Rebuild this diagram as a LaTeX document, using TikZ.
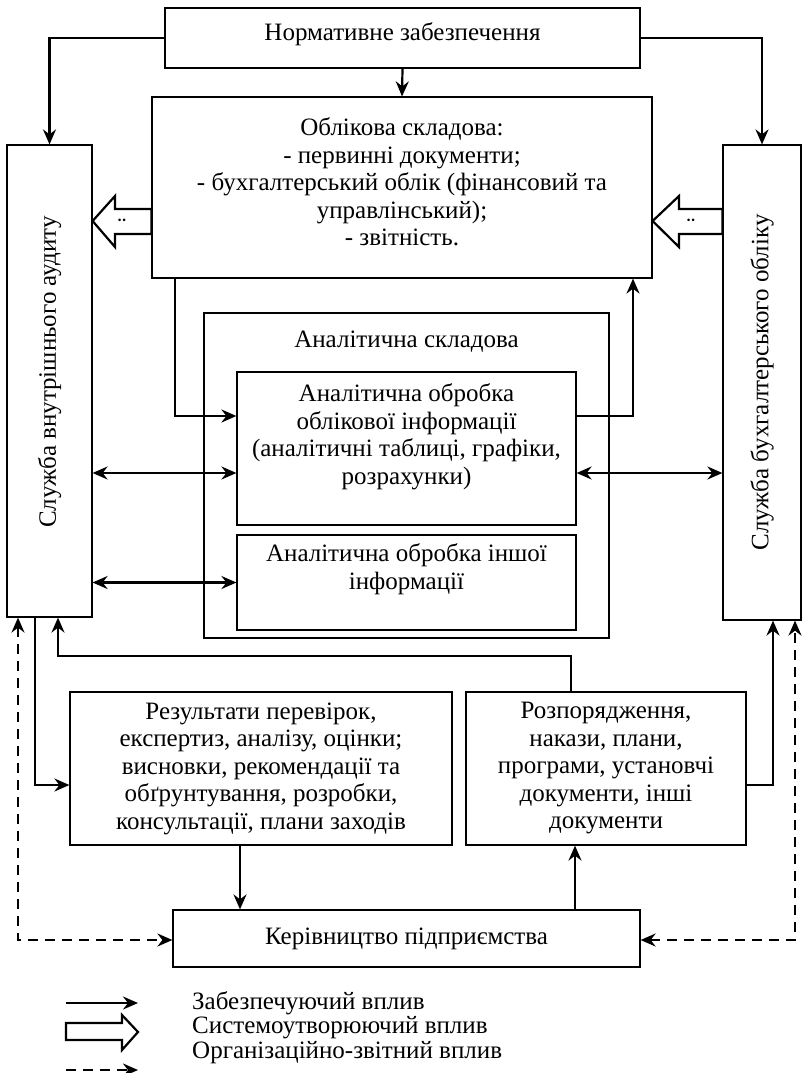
\documentclass[tikz,border=0pt]{standalone}
\usepackage{fontspec}
\setmainfont{Liberation Serif}
\usetikzlibrary{arrows.meta,positioning,calc}

\begin{document}
\begin{tikzpicture}[x=1pt,y=-1pt,
  box/.style={draw,line width=1.2pt},
  txt/.style={align=center,inner sep=2pt,font=\fontsize{25}{27.5}\selectfont},
  link/.style={line width=2.2pt,-{Stealth[length=15pt,width=13pt,inset=5pt]}},
  both/.style={line width=2.2pt,{Stealth[length=15pt,width=13pt,inset=5pt]}-{Stealth[length=15pt,width=13pt,inset=5pt]}},
  dlink/.style={line width=2.2pt,dash pattern=on 10pt off 7pt,{Stealth[length=15pt,width=13pt,inset=5pt]}-{Stealth[length=15pt,width=13pt,inset=5pt]}},
  hollow/.style={line width=2.2pt,line join=miter,fill=white}]
  \useasboundingbox (0,0) rectangle (802,1073);
  % boxes
  \node[box,minimum width=475pt,minimum height=60pt] (norm) at (402.5,38) {};
  \node[txt] (normt) at (402.5,34) {Нормативне забезпечення};
  \node[box,minimum width=500pt,minimum height=181pt] (oblik) at (402,187.5) {};
  \node[txt] (oblikt) at (402,182)
    {Облікова складова:\\- первинні документи;\\- бухгалтерський облік (фінансовий та\\управлінський);\\- звітність.};
  \node[box,minimum width=85pt,minimum height=472pt] (audit) at (49.5,381) {};
  \node[txt,rotate=90] (auditt) at (49.5,372) {Служба внутрішнього аудиту};
  \node[box,minimum width=78pt,minimum height=475pt] (acct) at (762,382.5) {};
  \node[txt,rotate=90] (acctt) at (acct.center) {Служба бухгалтерського обліку};
  \node[box,minimum width=405pt,minimum height=325pt] (anal) at (406.5,475.5) {};
  \node[txt] (analt) at (406.5,342) {Аналітична складова};
  \node[box,minimum width=339pt,minimum height=153pt] (inner1) at (406.5,448.5) {};
  \node[txt,below=10pt of inner1.north] (inner1t)
    {Аналітична обробка\\облікової інформації\\(аналітичні таблиці, графіки,\\розрахунки)};
  \node[box,minimum width=339pt,minimum height=95pt] (inner2) at (406.5,582.5) {};
  \node[txt,below=7pt of inner2.north] (inner2t) {Аналітична обробка іншої\\інформації};
  \node[box,txt,minimum width=382pt,minimum height=153pt] (res) at (261,768.5)
    {Результати перевірок,\\експертиз, аналізу, оцінки;\\висновки, рекомендації та\\обґрунтування, розробки,\\консультації, плани заходів};
  \node[box,txt,minimum width=280pt,minimum height=153pt] (rozp) at (606,768.5)
    {Розпорядження,\\накази, плани,\\програми, установчі\\документи, інші\\документи};
  \node[box,txt,minimum width=467pt,minimum height=57pt] (ker) at (406.5,938.5) {Керівництво підприємства};

  % top links
  \draw[link] (norm.south) -- (oblik.north);
  \draw[link] (norm.west) -| (audit.north);
  \draw[link] (norm.east) -| (acct.north);

  % wide arrows
  \draw[hollow] (audit.east |- 0,221) -- (115,196) -- (115,209) -- (oblik.west |- 0,209)
    -- (oblik.west |- 0,234) -- (115,234) -- (115,247) -- cycle;
  \draw[hollow] (oblik.east |- 0,221) -- (679,196) -- (679,209) -- (acct.west |- 0,209)
    -- (acct.west |- 0,234) -- (679,234) -- (679,247) -- cycle;
  \node[font=\fontsize{26}{26}\selectfont,anchor=north,inner sep=0pt] (m1) at (122,219) {¨};
  \node[font=\fontsize{26}{26}\selectfont,anchor=north,inner sep=0pt] (m2) at (691,219) {¨};

  % analytical part
  \coordinate (c1) at (175,416);
  \coordinate (c2) at (633,416);
  \coordinate (c3) at (0,473);
  \draw[link] (oblik.south -| c1) |- (inner1.west |- c1);
  \draw[link] (inner1.east |- c2) -| (oblik.south -| c2);
  \draw[both] (audit.east |- c3) -- (inner1.west |- c3);
  \draw[both] (inner1.east |- c3) -- (acct.west |- c3);
  \draw[both] (audit.east |- inner2.west) -- (inner2.west);

  % bottom part
  \coordinate (c4) at (35,785);
  \coordinate (c5) at (58,656);
  \coordinate (c6) at (571,656);
  \coordinate (c7) at (240,0);
  \coordinate (c8) at (575,0);
  \coordinate (c9) at (773,785);
  \coordinate (c10) at (18,940);
  \coordinate (c11) at (795,940);
  \draw[link] (audit.south -| c4) |- (res.west |- c4);
  \draw[link] (rozp.north -| c6) |- (c5) -- (audit.south -| c5);
  \draw[link] (res.south -| c7) -- (ker.north -| c7);
  \draw[link] (ker.north -| c8) -- (rozp.south -| c8);
  \draw[link] (rozp.east |- c9) -| (acct.south -| c9);
  \draw[dlink] (audit.south -| c10) |- (ker.west |- c10);
  \draw[dlink] (ker.east |- c11) -| (acct.south -| c11);

  % legend
  \coordinate (k1) at (66,1003);
  \coordinate (k2) at (138,1003);
  \coordinate (k3) at (66,1070);
  \coordinate (k4) at (138,1070);
  \draw[link] (k1) -- (k2);
  \draw[hollow] (138,1032) -- (122,1015) -- (122,1023) -- (66,1023) -- (66,1040)
    -- (122,1040) -- (122,1050) -- cycle;
  \draw[line width=2.2pt,dash pattern=on 10pt off 7pt,-{Stealth[length=15pt,width=13pt,inset=5pt]}] (k3) -- (k4);
  \node[txt,anchor=west] (leg1) at (190,1003) {Забезпечуючий вплив};
  \node[txt,anchor=west] (leg2) at (190,1028) {Системоутворюючий вплив};
  \node[txt,anchor=west] (leg3) at (190,1053) {Організаційно-звітний вплив};
\end{tikzpicture}
\end{document}
